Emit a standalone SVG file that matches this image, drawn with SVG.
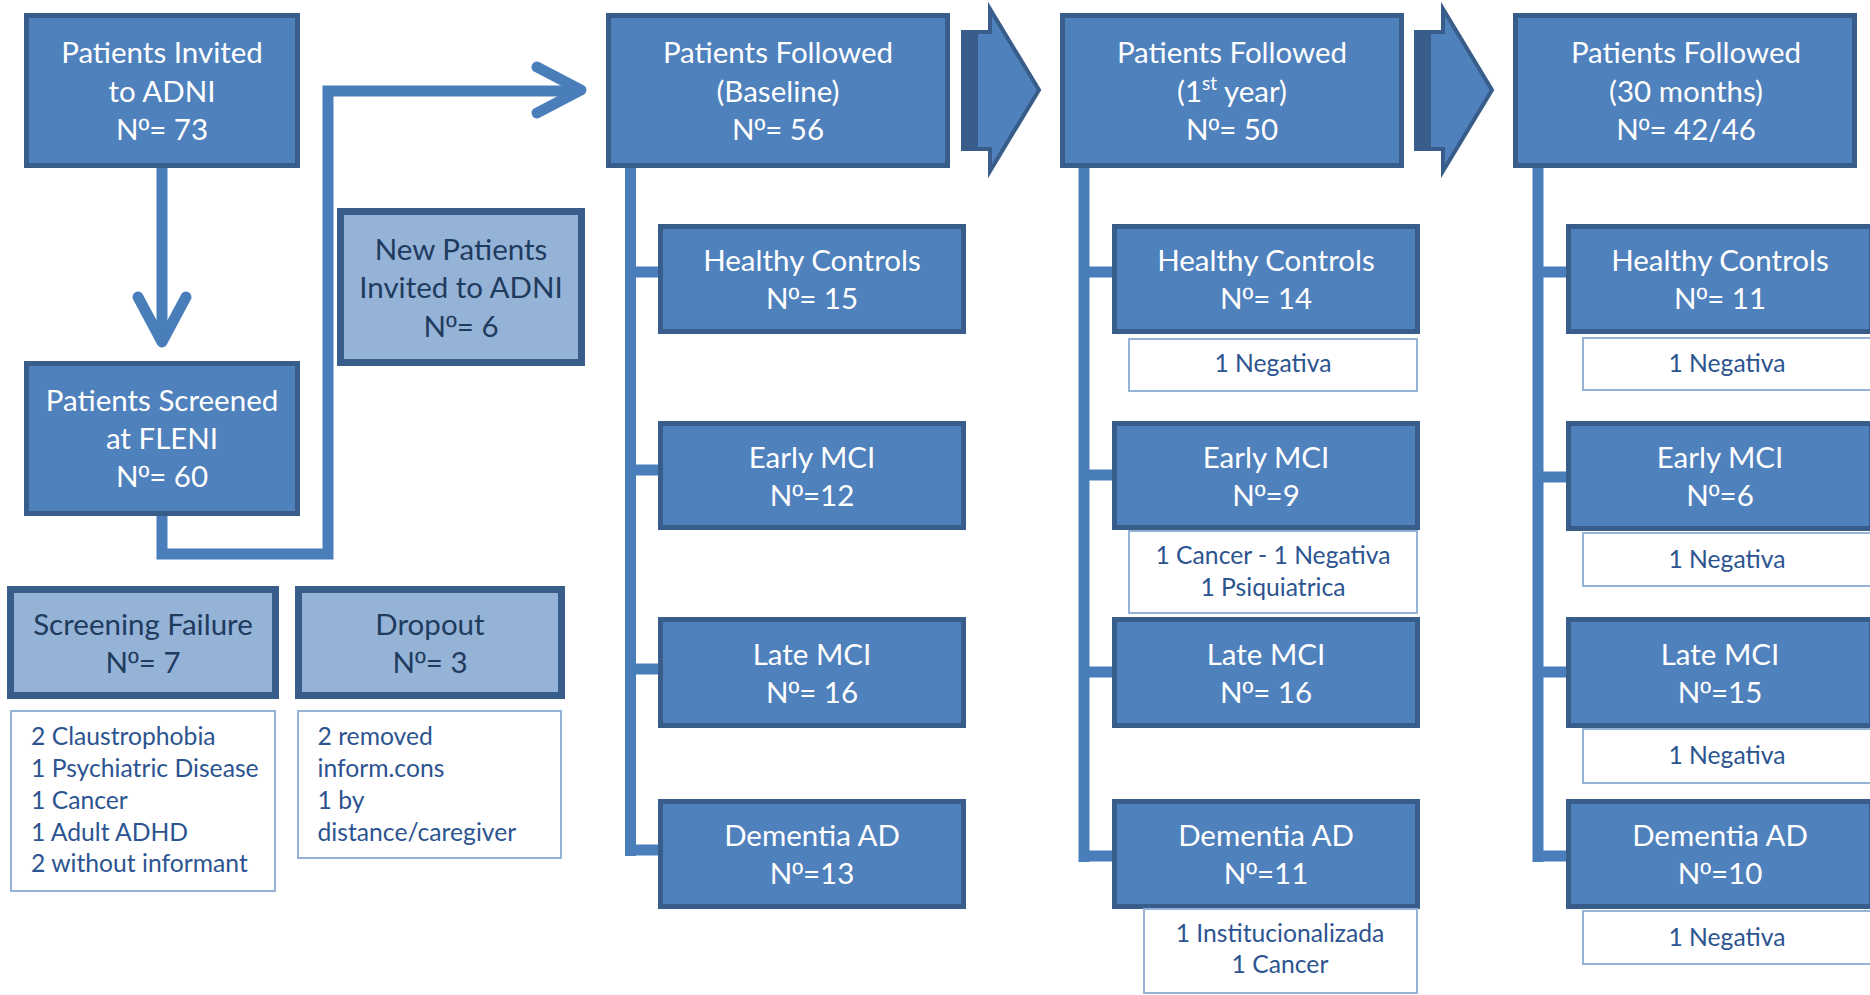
<svg xmlns="http://www.w3.org/2000/svg" width="1870" height="995" viewBox="0 0 1870 995">
<defs>
<style>
.box{fill:#4F81BD;stroke:#385D8A;stroke-width:5}
.lbox{fill:#95B3D7;stroke:#385D8A;stroke-width:7}
.note{fill:#FFFFFF;stroke:#95B3D7;stroke-width:2}
.t{font-family:Lato,"Liberation Sans",sans-serif;font-size:29.5px;fill:#FFFFFF;text-anchor:middle}
.tl{font-family:Lato,"Liberation Sans",sans-serif;font-size:29.5px;fill:#1F3B5E;text-anchor:middle}
.n{font-family:Lato,"Liberation Sans",sans-serif;font-size:24.7px;fill:#2C5490;text-anchor:middle}
.nl{font-family:Lato,"Liberation Sans",sans-serif;font-size:24.7px;fill:#2C5490}
.o{font-family:"Liberation Sans","DejaVu Sans",sans-serif}
.ln{fill:none;stroke:#4A7EBB;stroke-width:11;stroke-linejoin:miter}
.chev{fill:none;stroke:#4A7EBB;stroke-width:11;stroke-linecap:round;stroke-linejoin:round}
.barr{fill:#4F81BD;stroke:#385D8A;stroke-width:4}
.bdark{fill:#385D8A}
</style>
</defs>

<g id="connectors">
  <line class="ln" x1="162" y1="168" x2="162" y2="340"/>
  <polyline class="chev" points="138,297 162,342 186,297"/>
  <path class="ln" d="M162,516 V554 H328 V91 H578"/>
  <polyline class="chev" points="537,67 581,90 537,113"/>
  <path class="ln" d="M630.5,168 V856 M630.5,272 H661 M630.5,470 H661 M630.5,669 H661 M630.5,850 H661"/>
  <path class="ln" d="M1084,168 V862 M1084,272 H1115 M1084,475 H1115 M1084,672 H1115 M1084,856 H1115"/>
  <path class="ln" d="M1538,168 V862 M1538,272 H1569 M1538,477 H1569 M1538,672 H1569 M1538,856 H1569"/>
  <g id="blockarrow1">
    <polygon class="barr" points="963,32 990,32 990,9 1039,90 990,171 990,149 963,149"/>
    <rect class="bdark" x="961" y="30" width="17" height="121"/>
  </g>
  <g id="blockarrow2" transform="translate(453,0)">
    <polygon class="barr" points="963,32 990,32 990,9 1039,90 990,171 990,149 963,149"/>
    <rect class="bdark" x="961" y="30" width="17" height="121"/>
  </g>
</g>

<g id="invited">
  <rect class="box" x="26.5" y="15.5" width="271" height="150"/>
  <text class="t" x="162" y="63">Patients Invited</text>
  <text class="t" x="162" y="102">to ADNI</text>
  <text class="t" x="162" y="140">N<tspan class="o">º</tspan>= 73</text>
</g>
<g id="screened">
  <rect class="box" x="26.5" y="363.5" width="271" height="150"/>
  <text class="t" x="162" y="411">Patients Screened</text>
  <text class="t" x="162" y="449">at FLENI</text>
  <text class="t" x="162" y="487">N<tspan class="o">º</tspan>= 60</text>
</g>
<g id="newpatients">
  <rect class="lbox" x="340.5" y="211.5" width="241" height="151"/>
  <text class="tl" x="461" y="260">New Patients</text>
  <text class="tl" x="461" y="298">Invited to ADNI</text>
  <text class="tl" x="461" y="337">N<tspan class="o">º</tspan>= 6</text>
</g>
<g id="screenfail">
  <rect class="lbox" x="10.5" y="589.5" width="265" height="106"/>
  <text class="tl" x="143" y="635">Screening Failure</text>
  <text class="tl" x="143" y="673">N<tspan class="o">º</tspan>= 7</text>
</g>
<g id="dropout">
  <rect class="lbox" x="298.5" y="589.5" width="263" height="106"/>
  <text class="tl" x="430" y="635">Dropout</text>
  <text class="tl" x="430" y="673">N<tspan class="o">º</tspan>= 3</text>
</g>
<g id="screenfail-note">
  <rect class="note" x="11" y="711" width="264" height="180"/>
  <text class="nl" x="31" y="745">2 Claustrophobia</text>
  <text class="nl" x="31" y="777">1 Psychiatric Disease</text>
  <text class="nl" x="31" y="809">1 Cancer</text>
  <text class="nl" x="31" y="841">1 Adult ADHD</text>
  <text class="nl" x="31" y="872">2 without informant</text>
</g>
<g id="dropout-note">
  <rect class="note" x="298" y="711" width="263" height="147"/>
  <text class="nl" x="317.5" y="745">2 removed</text>
  <text class="nl" x="317.5" y="777">inform.cons</text>
  <text class="nl" x="317.5" y="809">1 by</text>
  <text class="nl" x="317.5" y="841">distance/caregiver</text>
</g>

<g id="baseline">
  <rect class="box" x="608.5" y="15.5" width="339" height="150"/>
  <text class="t" x="778" y="63">Patients Followed</text>
  <text class="t" x="778" y="102">(Baseline)</text>
  <text class="t" x="778" y="140">N<tspan class="o">º</tspan>= 56</text>
</g>
<g id="b-hc">
  <rect class="box" x="660.5" y="226.5" width="303" height="105"/>
  <text class="t" x="812" y="271">Healthy Controls</text>
  <text class="t" x="812" y="309">N<tspan class="o">º</tspan>= 15</text>
</g>
<g id="b-emci">
  <rect class="box" x="660.5" y="423.5" width="303" height="104"/>
  <text class="t" x="812" y="468">Early MCI</text>
  <text class="t" x="812" y="506">N<tspan class="o">º</tspan>=12</text>
</g>
<g id="b-lmci">
  <rect class="box" x="660.5" y="619.5" width="303" height="106"/>
  <text class="t" x="812" y="665">Late MCI</text>
  <text class="t" x="812" y="703">N<tspan class="o">º</tspan>= 16</text>
</g>
<g id="b-ad">
  <rect class="box" x="660.5" y="801.5" width="303" height="105"/>
  <text class="t" x="812" y="846">Dementia AD</text>
  <text class="t" x="812" y="884">N<tspan class="o">º</tspan>=13</text>
</g>

<g id="year1">
  <rect class="box" x="1062.5" y="15.5" width="339" height="150"/>
  <text class="t" x="1232" y="63">Patients Followed</text>
  <text class="t" x="1232" y="102">(1<tspan font-size="19" dy="-12">st</tspan><tspan dy="12"> year)</tspan></text>
  <text class="t" x="1232" y="140">N<tspan class="o">º</tspan>= 50</text>
</g>
<g id="y1-hc">
  <rect class="box" x="1114.5" y="226.5" width="303" height="105"/>
  <text class="t" x="1266" y="271">Healthy Controls</text>
  <text class="t" x="1266" y="309">N<tspan class="o">º</tspan>= 14</text>
</g>
<g id="y1-hc-note">
  <rect class="note" x="1129" y="339" width="288" height="52"/>
  <text class="n" x="1273" y="372">1 Negativa</text>
</g>
<g id="y1-emci">
  <rect class="box" x="1114.5" y="423.5" width="303" height="104"/>
  <text class="t" x="1266" y="468">Early MCI</text>
  <text class="t" x="1266" y="506">N<tspan class="o">º</tspan>=9</text>
</g>
<g id="y1-emci-note">
  <rect class="note" x="1129" y="531" width="288" height="82"/>
  <text class="n" x="1273" y="564">1 Cancer - 1 Negativa</text>
  <text class="n" x="1273" y="596">1 Psiquiatrica</text>
</g>
<g id="y1-lmci">
  <rect class="box" x="1114.5" y="619.5" width="303" height="106"/>
  <text class="t" x="1266" y="665">Late MCI</text>
  <text class="t" x="1266" y="703">N<tspan class="o">º</tspan>= 16</text>
</g>
<g id="y1-ad">
  <rect class="box" x="1114.5" y="801.5" width="303" height="105"/>
  <text class="t" x="1266" y="846">Dementia AD</text>
  <text class="t" x="1266" y="884">N<tspan class="o">º</tspan>=11</text>
</g>
<g id="y1-ad-note">
  <rect class="note" x="1144" y="909" width="273" height="84"/>
  <text class="n" x="1280" y="942">1 Institucionalizada</text>
  <text class="n" x="1280" y="973">1 Cancer</text>
</g>

<g id="m30">
  <rect class="box" x="1515.5" y="15.5" width="339" height="150"/>
  <text class="t" x="1686" y="63">Patients Followed</text>
  <text class="t" x="1686" y="102">(30 months)</text>
  <text class="t" x="1686" y="140">N<tspan class="o">º</tspan>= 42/46</text>
</g>
<g id="m30-hc">
  <rect class="box" x="1568.5" y="226.5" width="303" height="105"/>
  <text class="t" x="1720" y="271">Healthy Controls</text>
  <text class="t" x="1720" y="309">N<tspan class="o">º</tspan>= 11</text>
</g>
<g id="m30-hc-note">
  <rect class="note" x="1583" y="338" width="290" height="52"/>
  <text class="n" x="1727" y="372">1 Negativa</text>
</g>
<g id="m30-emci">
  <rect class="box" x="1568.5" y="423.5" width="303" height="105"/>
  <text class="t" x="1720" y="468">Early MCI</text>
  <text class="t" x="1720" y="506">N<tspan class="o">º</tspan>=6</text>
</g>
<g id="m30-emci-note">
  <rect class="note" x="1583" y="533" width="290" height="53"/>
  <text class="n" x="1727" y="568">1 Negativa</text>
</g>
<g id="m30-lmci">
  <rect class="box" x="1568.5" y="619.5" width="303" height="106"/>
  <text class="t" x="1720" y="665">Late MCI</text>
  <text class="t" x="1720" y="703">N<tspan class="o">º</tspan>=15</text>
</g>
<g id="m30-lmci-note">
  <rect class="note" x="1583" y="729" width="290" height="54"/>
  <text class="n" x="1727" y="764">1 Negativa</text>
</g>
<g id="m30-ad">
  <rect class="box" x="1568.5" y="801.5" width="303" height="105"/>
  <text class="t" x="1720" y="846">Dementia AD</text>
  <text class="t" x="1720" y="884">N<tspan class="o">º</tspan>=10</text>
</g>
<g id="m30-ad-note">
  <rect class="note" x="1583" y="911" width="290" height="53"/>
  <text class="n" x="1727" y="946">1 Negativa</text>
</g>
</svg>
